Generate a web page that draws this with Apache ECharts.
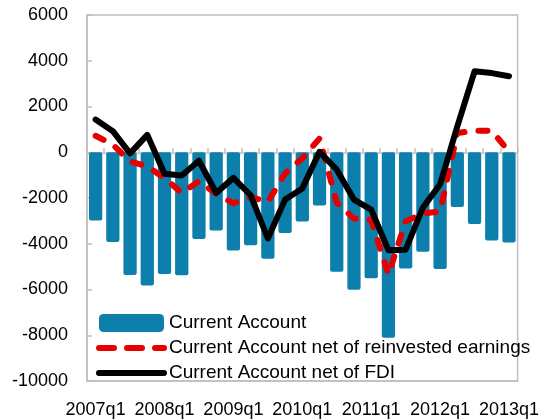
<!DOCTYPE html>
<html><head><meta charset="utf-8">
<script src="https://cdn.jsdelivr.net/npm/echarts@6/dist/echarts.min.js"></script>
<style>html,body{margin:0;padding:0;background:#fff}#c{width:542px;height:419px}</style>
</head><body><div id="c"></div>
<script>
const categories = ["2007q1","2007q2","2007q3","2007q4","2008q1","2008q2","2008q3","2008q4",
  "2009q1","2009q2","2009q3","2009q4","2010q1","2010q2","2010q3","2010q4",
  "2011q1","2011q2","2011q3","2011q4","2012q1","2012q2","2012q3","2012q4","2013q1"];
const currentAccount = [-2980,-3920,-5370,-5830,-5320,-5380,-3790,-3420,-4300,-4070,-4660,-3530,-3030,-2330,-5220,-6010,-5510,-8110,-5080,-4350,-5100,-2390,-3140,-3860,-3940];
const netOfReinvested = [720,330,-400,-620,-1130,-1780,-1260,-1820,-2230,-1960,-2170,-930,-260,600,-2200,-2900,-2950,-5350,-3020,-2680,-2590,840,940,940,30];
const netOfFDI = [1430,920,-50,760,-940,-1020,-370,-1780,-1120,-1880,-3770,-2070,-1580,20,-760,-2070,-2510,-4280,-4260,-2420,-1400,1130,3540,3460,3320];
const seriesNames = ["Current Account","Current Account net of reinvested earnings","Current Account net of FDI"];
const yMin = -10000, yMax = 6000, yStep = 2000;

const FONT = "Liberation Sans";
const GREY = "#bfbfbf";
const RED = "#e60000";
const BLUE = "#0c7fac";
const chart = echarts.init(document.getElementById('c'), null, {renderer:'canvas'});
chart.setOption({
  animation: false,
  backgroundColor: '#fff',
  textStyle: {fontFamily: FONT},
  grid: {left: 87, right: 23, top: 15, bottom: 37.5, show: true, borderColor: GREY, borderWidth: 1.5},
  legend: {
    orient: 'vertical', left: 91, top: 308.5, itemWidth: 65, itemHeight: 18, itemGap: 6,
    textStyle: {fontSize: 19, color: '#000', fontFamily: FONT},
    data: [
      {name: seriesNames[0], icon: 'roundRect'},
      {name: seriesNames[1], itemStyle: {opacity: 0},
       lineStyle: {width: 6, color: RED, type: [15, 13], cap: 'round', opacity: 1}},
      {name: seriesNames[2], itemStyle: {opacity: 0},
       lineStyle: {width: 6, color: '#000', type: 'solid', cap: 'round', opacity: 1}}
    ]
  },
  xAxis: [
    {type: 'category', data: categories, position: 'bottom',
     axisLine: {onZero: false, show: true, lineStyle: {color: GREY, width: 1.5}},
     axisTick: {show: false},
     axisLabel: {interval: 3, fontSize: 18, color: '#000', fontFamily: FONT, margin: 20}},
    {type: 'category', data: categories, position: 'top',
     axisLine: {onZero: true, show: true, lineStyle: {color: GREY, width: 1.5}},
     axisTick: {show: true, inside: false, length: 4, interval: 0, lineStyle: {color: GREY, width: 1.5}},
     axisLabel: {show: false}}
  ],
  yAxis: {type: 'value', min: yMin, max: yMax, interval: yStep,
    axisLine: {show: true, lineStyle: {color: GREY, width: 1.5}},
    axisTick: {show: true, inside: true, length: 5, lineStyle: {color: GREY, width: 1.5}},
    splitLine: {show: false},
    axisLabel: {fontSize: 18, color: '#000', fontFamily: FONT, margin: 19,
                formatter: function (v) { return String(v); }}},
  series: [
    {name: seriesNames[0], type: 'bar', data: currentAccount, barCategoryGap: '23%',
     itemStyle: {color: BLUE, borderRadius: 2}},
    {name: seriesNames[1], type: 'line', data: netOfReinvested, symbol: 'none',
     itemStyle: {color: RED},
     lineStyle: {color: RED, width: 6, type: [9, 14], cap: 'round', join: 'round'}},
    {name: seriesNames[2], type: 'line', data: netOfFDI, symbol: 'none',
     itemStyle: {color: '#000'},
     lineStyle: {color: '#000', width: 6, cap: 'round', join: 'round'}}
  ]
});
</script></body></html>
